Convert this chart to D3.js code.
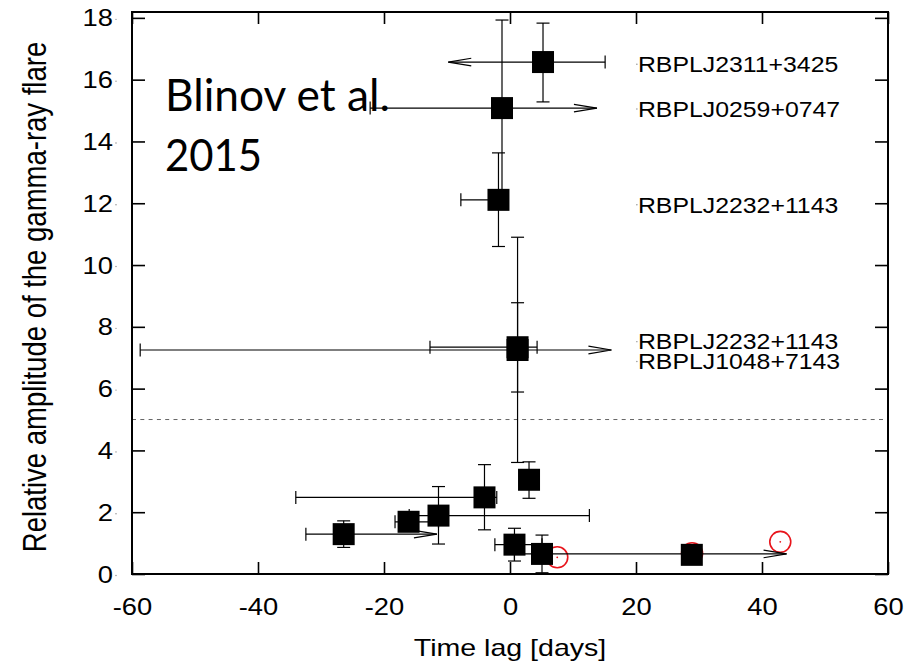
<!DOCTYPE html>
<html><head><meta charset="utf-8">
<script src="https://cdn.jsdelivr.net/npm/d3@7"></script>
<style>body{margin:0;background:#fff}svg{display:block}</style>
</head><body>
<svg id="c" width="924" height="666"></svg>
<script>
// ---- data ----
const lag    = [5.24, -1.27, -1.83, 1.2, 1.2, -26.4, -16.1, -11.35, -4.05, 3.02, 0.71, 5.08, 28.86];
const amp    = [16.57, 15.08, 12.11, 7.34, 7.25, 1.29, 1.69, 1.89, 2.48, 3.05, 0.95, 0.65, 0.62];
const lagLo  = [-9.8, -22.2, -7.8, -12.7, -58.7, -32.4, -18.25, -16.0, -34.0, 3.02, -2.4, 0.7, 28.86];
const lagHi  = [15.1, 13.8, -1.83, 4.3, 16.1, -11.6, -11.35, 12.6, -2.1, 3.02, 5.08, 43.9, 28.86];
const loArrow = [true, false, false, false, false, false, false, false, false, false, false, false, false];
const hiArrow = [false, true, false, false, true, true, false, false, false, false, false, true, false];
const ampLo  = [15.28, 12.0, 10.6, 5.89, 3.61, 0.86, 1.69, 0.97, 1.43, 2.45, 0.42, 0.04, 0.62];
const ampHi  = [17.83, 17.93, 13.63, 8.78, 10.9, 1.72, 1.69, 2.83, 3.54, 3.63, 1.48, 1.26, 0.62];
const circLag = [7.5, 28.9, 42.9];
const circAmp = [0.54, 0.67, 1.04];
const labelText = ["RBPLJ2311+3425", "RBPLJ0259+0747", "RBPLJ2232+1143", "RBPLJ2232+1143", "RBPLJ1048+7143"];
const labelLag  = [20.3, 20.3, 20.3, 20.3, 20.3];
const labelAmp  = [16.5, 15.05, 11.95, 7.52, 6.88];
const xTicks = [-60, -40, -20, 0, 20, 40, 60];
const yTicks = [0, 2, 4, 6, 8, 10, 12, 14, 16, 18];
const threshold = 5;

// ---- layout ----
const svg = d3.select("#c");
const x = d3.scaleLinear().domain([-60, 60]).range([132, 888]);
const y = d3.scaleLinear().domain([0, 18.19]).range([574, 12]);
const SX = 1.19;
const font = "'Liberation Sans', Arial, Helvetica, sans-serif";
const fmt = d => String(d);

// dashed threshold
svg.append("line").attr("x1", x(-60)).attr("x2", x(60))
  .attr("y1", y(threshold)).attr("y2", y(threshold))
  .attr("stroke", "#666").attr("stroke-width", 1).attr("stroke-dasharray", "4,4.3");

// axes (inward ticks)
const gx = svg.append("g").attr("transform", `translate(0,${y(0)})`)
  .call(d3.axisBottom(x).tickValues(xTicks).tickSize(-12).tickPadding(0).tickFormat(fmt));
const gxt = svg.append("g").attr("transform", `translate(0,${y.range()[1]})`)
  .call(d3.axisTop(x).tickValues(xTicks).tickSize(-12).tickFormat(""));
const gy = svg.append("g").attr("transform", `translate(${x(-60)},0)`)
  .call(d3.axisLeft(y).tickValues(yTicks).tickSize(-13).tickPadding(0).tickFormat(fmt));
const gyr = svg.append("g").attr("transform", `translate(${x(60)},0)`)
  .call(d3.axisRight(y).tickValues(yTicks).tickSize(-13).tickFormat(""));
[gx, gxt, gy, gyr].forEach(g => {
  g.select(".domain").remove();
  g.selectAll(".tick line").attr("stroke", "#000").attr("stroke-width", 1.6);
});
gx.selectAll(".tick text").attr("y", null).attr("dy", null)
  .attr("transform", `translate(0,41) scale(${SX},1)`)
  .attr("font-family", font).attr("font-size", 23).attr("fill", "#000");
gy.selectAll(".tick text").attr("x", null).attr("dy", "0.35em")
  .attr("transform", `translate(-19,0) scale(${SX},1)`)
  .attr("font-family", font).attr("font-size", 23).attr("fill", "#000");
// tiny gnuplot label dots after y tick labels
gy.selectAll(".tick").append("circle").attr("cx", -16).attr("cy", 1).attr("r", 0.7).attr("fill", "#888");

// frame
svg.append("rect").attr("x", x(-60)).attr("y", y.range()[1])
  .attr("width", x(60) - x(-60)).attr("height", y(0) - y.range()[1])
  .attr("fill", "none").attr("stroke", "#000").attr("stroke-width", 2);

// axis titles
svg.append("text").attr("transform", `translate(510,656) scale(${SX},1)`)
  .attr("text-anchor", "middle").attr("font-family", font).attr("font-size", 24)
  .text("Time lag [days]");
svg.append("text").attr("transform", `translate(46,297) scale(${SX},1) rotate(-90)`)
  .attr("text-anchor", "middle").attr("font-family", font).attr("font-size", 27.5)
  .text("Relative amplitude of the gamma-ray flare");

// red circles (behind squares)
const cg = svg.append("g");
circLag.forEach((v, i) => {
  cg.append("circle").attr("cx", x(v)).attr("cy", y(circAmp[i])).attr("r", 10.5)
    .attr("fill", "none").attr("stroke", "#e8141b").attr("stroke-width", 1.6);
  cg.append("circle").attr("cx", x(v)).attr("cy", y(circAmp[i])).attr("r", 0.9)
    .attr("fill", "#e8141b");
});

// error bars
const eg = svg.append("g").attr("stroke", "#000").attr("stroke-width", 1.2).attr("fill", "none");
const CAP = 6.5, AL = 23, AH = 3.8;
lag.forEach((v, i) => {
  const px = x(v), py = y(amp[i]);
  if (lagLo[i] !== v || lagHi[i] !== v) {
    const xl = x(lagLo[i]), xh = x(lagHi[i]);
    eg.append("line").attr("x1", xl).attr("x2", xh).attr("y1", py).attr("y2", py);
    if (loArrow[i]) {
      eg.append("path").attr("d", `M${xl + AL},${py - AH}L${xl},${py}L${xl + AL},${py + AH}`);
    } else if (lagLo[i] !== v) {
      eg.append("line").attr("x1", xl).attr("x2", xl).attr("y1", py - CAP).attr("y2", py + CAP);
    }
    if (hiArrow[i]) {
      eg.append("path").attr("d", `M${xh - AL},${py - AH}L${xh},${py}L${xh - AL},${py + AH}`);
    } else if (lagHi[i] !== v) {
      eg.append("line").attr("x1", xh).attr("x2", xh).attr("y1", py - CAP).attr("y2", py + CAP);
    }
  }
  if (ampLo[i] !== amp[i] || ampHi[i] !== amp[i]) {
    const yl = y(ampLo[i]), yh = y(ampHi[i]);
    eg.append("line").attr("x1", px).attr("x2", px).attr("y1", yl).attr("y2", yh);
    eg.append("line").attr("x1", px - CAP).attr("x2", px + CAP).attr("y1", yl).attr("y2", yl);
    eg.append("line").attr("x1", px - CAP).attr("x2", px + CAP).attr("y1", yh).attr("y2", yh);
  }
});

// squares
const S = 22;
svg.append("g").selectAll("rect").data(lag).join("rect")
  .attr("x", (d) => x(d) - S / 2).attr("y", (d, i) => y(amp[i]) - S / 2)
  .attr("width", S).attr("height", S).attr("fill", "#000");

// source labels
const LSX = 1.15;
labelText.forEach((t, i) => {
  const lx = x(labelLag[i]), ly = y(labelAmp[i]);
  svg.append("circle").attr("cx", lx - 1).attr("cy", ly).attr("r", 0.7).attr("fill", "#888");
  svg.append("text").attr("transform", `translate(${lx},${ly}) scale(${LSX},1)`)
    .attr("dy", "0.36em").attr("font-family", font).attr("font-size", 21.6).text(t);
});

// annotation
const ann = "Lato, 'Open Sans', sans-serif";
svg.append("text").attr("x", 165).attr("y", 111).attr("font-family", ann).attr("font-size", 44)
  .attr("textLength", 225).attr("lengthAdjust", "spacingAndGlyphs").text("Blinov et al.");
svg.append("text").attr("x", 165).attr("y", 171).attr("font-family", ann).attr("font-size", 44)
  .attr("textLength", 97).attr("lengthAdjust", "spacingAndGlyphs").text("2015");
</script>
</body></html>
